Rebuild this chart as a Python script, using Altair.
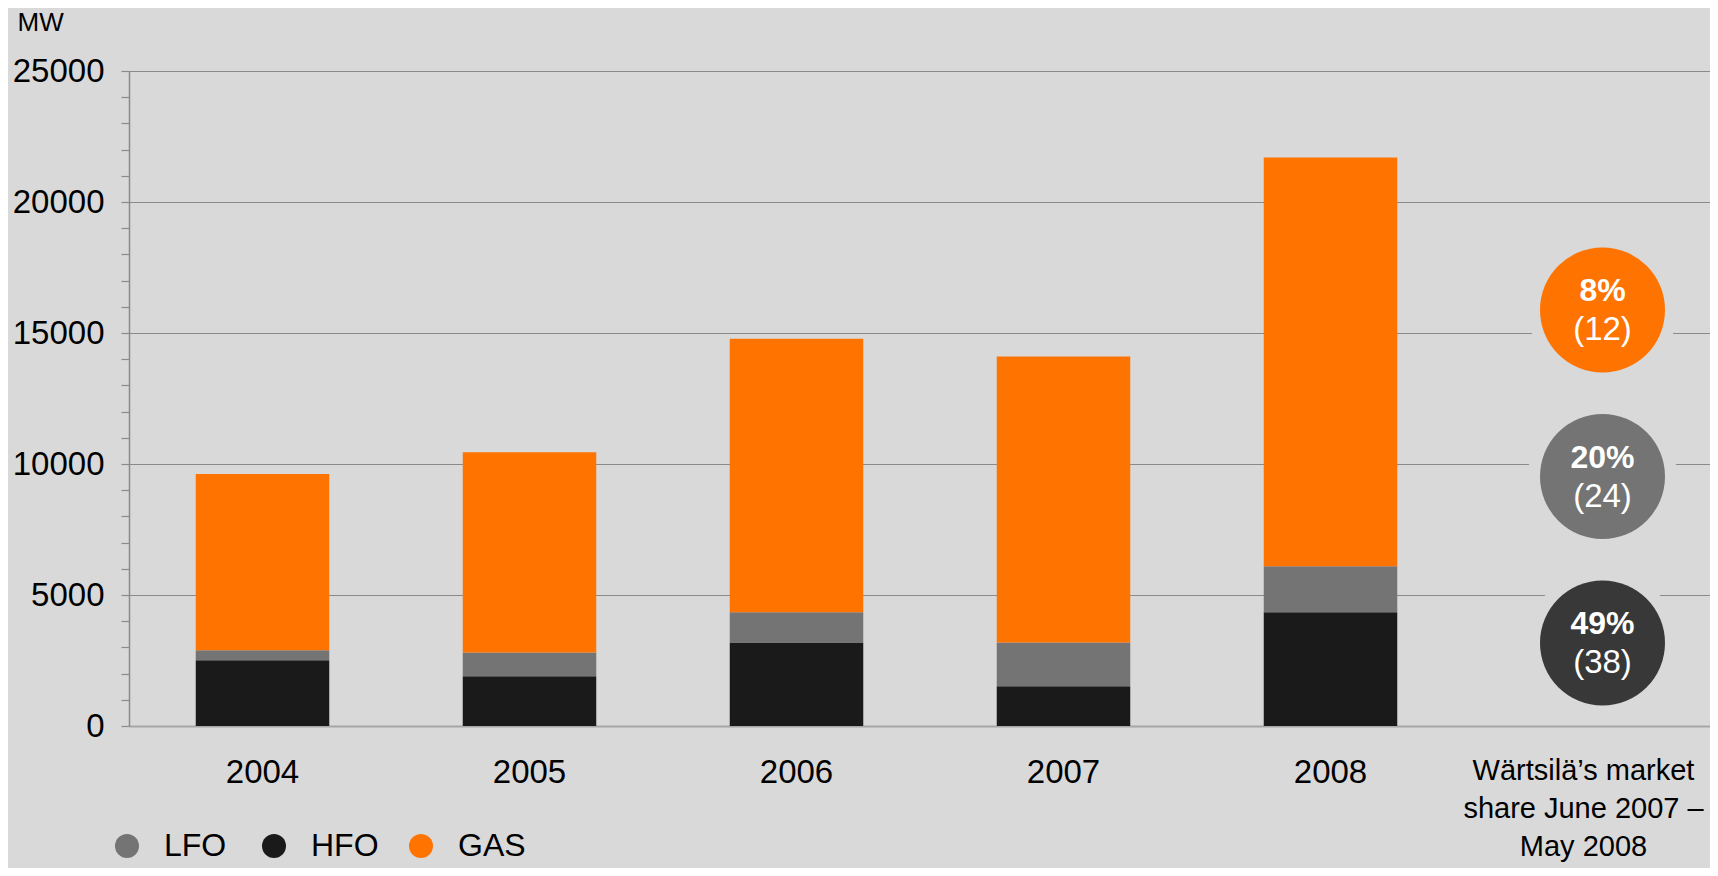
import altair as alt
import pandas as pd

# ---- data ----
years = ["2004", "2005", "2006", "2007", "2008"]
hfo = [2510, 1900, 3190, 1520, 4340]
lfo = [380, 910, 1150, 1670, 1760]
gas = [6730, 7640, 10440, 10910, 15600]

fuels = ["LFO", "HFO", "GAS"]
fuel_colors = ["#747474", "#1a1a1a", "#ff7300"]
stack_order = {"HFO": 0, "LFO": 1, "GAS": 2}

share_key = "share"
share_lines = ["Wärtsilä’s market", "share June 2007 –", "May 2008"]

bubble_fuels = ["GAS", "LFO", "HFO"]
bubble_pct = ["8%", "20%", "49%"]
bubble_prev = ["(12)", "(24)", "(38)"]
bubble_colors = ["#ff7300", "#747474", "#383838"]

BG = "#d9d9d9"
FONT = "Liberation Sans"

categories = years + [share_key]

rows = []
for i, y in enumerate(years):
    for f, v in (("HFO", hfo[i]), ("LFO", lfo[i]), ("GAS", gas[i])):
        rows.append({"cat": y, "fuel": f, "mw": v, "ord": stack_order[f]})
bars_df = pd.DataFrame(rows)

bub_df = pd.DataFrame({
    "cat": [share_key] * 3,
    "fuel": bubble_fuels,
    "pct": bubble_pct,
    "prev": bubble_prev,
    "col": bubble_colors,
})

is_share = "datum.value === '" + share_key + "'"
label_expr = (
    is_share + " ? ["
    + ",".join("'" + s + "'" for s in share_lines)
    + "] : datum.label"
)

x_enc = alt.X(
    "cat:N",
    scale=alt.Scale(domain=categories, paddingInner=0.5, paddingOuter=0.25),
    sort=categories,
    axis=alt.Axis(
        title=None, labelAngle=0, ticks=False, labelPadding=30,
        labelFontSize={"condition": {"test": is_share, "value": 29}, "value": 33},
        labelOffset={"condition": {"test": is_share, "value": -14}, "value": 0},
        labelExpr=label_expr, labelLineHeight=38, labelColor="black",
        domainColor="#a6a6a6", domainWidth=2, labelFont=FONT,
        labelOverlap=False, labelBound=False, labelFlush=False, labelLimit=1000,
    ),
)

bars = alt.Chart(bars_df).mark_bar().encode(
    x=x_enc,
    y=alt.Y(
        "mw:Q", stack="zero",
        scale=alt.Scale(domain=[0, 25000], nice=False),
        axis=alt.Axis(
            values=list(range(0, 25001, 1000)),
            labelExpr="datum.value % 5000 === 0 ? datum.label : ''",
            format="d",
            gridOpacity={"condition": {"test": "datum.value % 5000 === 0", "value": 1}, "value": 0},
            gridColor="#8a8a8a", gridWidth=1.2,
            tickColor="#8a8a8a", tickSize=8, tickWidth=1.2,
            domainColor="#8a8a8a", domainWidth=1.5,
            labelFontSize=33, labelPadding=17, labelColor="black", labelFont=FONT,
            title="MW", titleAngle=0, titleX=-112, titleY=-49, titleAlign="left",
            titleBaseline="middle", titleFontSize=26, titleFontWeight="normal",
            titleColor="black", titleFont=FONT,
        ),
    ),
    color=alt.Color(
        "fuel:N",
        scale=alt.Scale(domain=fuels, range=fuel_colors),
        legend=alt.Legend(
            orient="none", legendX=-18, legendY=759, direction="horizontal",
            title=None, symbolType="circle", symbolSize=576, symbolStrokeWidth=0,
            labelFontSize=32, labelOffset=21, columnPadding=26, gridAlign="all",
            labelFont=FONT, labelColor="black", padding=0,
        ),
    ),
    order=alt.Order("ord:Q"),
)

y_b = alt.Y(
    "fuel:N",
    scale=alt.Scale(domain=bubble_fuels, range=[239, 572], padding=0),
    axis=None,
)

base_b = alt.Chart(bub_df).encode(x=alt.X("cat:N", sort=categories), y=y_b)

halo = base_b.mark_point(filled=True, shape="circle", size=22200, opacity=1, xOffset=5).encode(
    fill=alt.value(BG), stroke=alt.value(None)
)
circles = base_b.mark_point(filled=True, shape="circle", size=15625, opacity=1, xOffset=5).encode(
    fill=alt.Fill("col:N", scale=None)
)
pct_text = base_b.mark_text(
    dy=-19, xOffset=5, fontSize=32, fontWeight="bold", color="white", font=FONT
).encode(text="pct:N")
prev_text = base_b.mark_text(
    dy=20, xOffset=5, fontSize=33, color="white", font=FONT
).encode(text="prev:N")

chart = alt.layer(bars, halo, circles, pct_text, prev_text).resolve_scale(
    y="independent"
).properties(
    width=1602, height=655,
    autosize=alt.AutoSizeParams(type="none"),
    padding={"left": 121, "top": 63, "right": -21, "bottom": 142},
    background=BG,
).configure_view(stroke=None).configure(font=FONT)

chart.save("out.html", embed_options={"renderer": "svg", "actions": False})
